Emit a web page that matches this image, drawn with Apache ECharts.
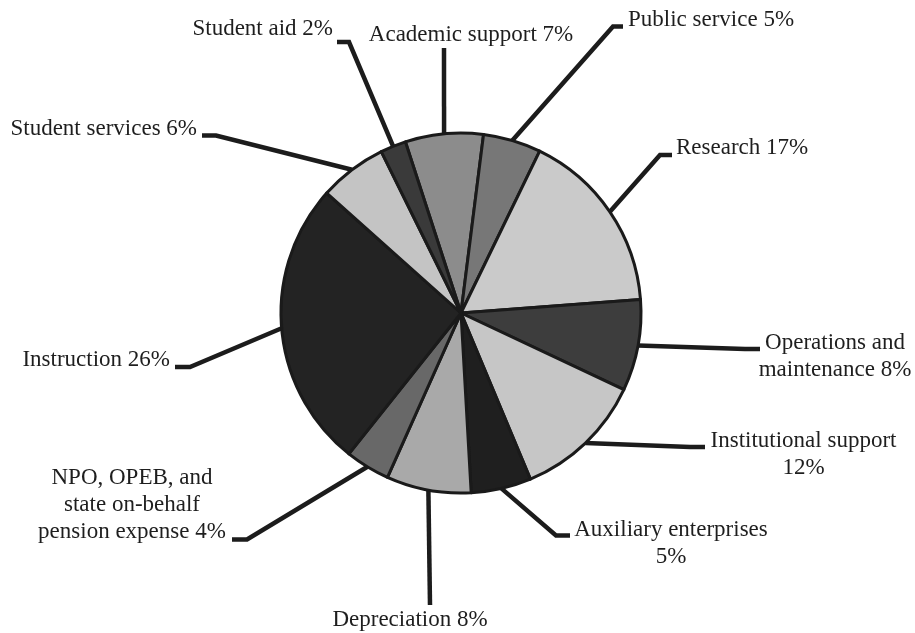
<!DOCTYPE html>
<html>
<head>
<meta charset="utf-8">
<script src="https://cdn.jsdelivr.net/npm/echarts@6/dist/echarts.min.js"></script>
<style>
  html, body { margin: 0; padding: 0; background: #fff; }
  #chart { width: 915px; height: 633px; }
</style>
</head>
<body>
<div id="chart"></div>
<script>
// 分类（顺时针，从顶部偏左开始）
var categories = [
  'Academic support',
  'Public service',
  'Research',
  'Operations and\nmaintenance',
  'Institutional support',
  'Auxiliary enterprises',
  'Depreciation',
  'NPO, OPEB, and\nstate on-behalf\npension expense',
  'Instruction',
  'Student services',
  'Student aid'
];
// 占比（%）
var shares = [7.0, 5.2, 16.6, 8.2, 11.7, 5.4, 7.6, 4.0, 25.9, 6.1, 2.3];

// 灰度配色
var colors = ['#8c8c8c', '#777777', '#cacaca', '#3d3d3d', '#c6c6c6', '#1f1f1f',
  '#a9a9a9', '#686868', '#232323', '#c4c4c4', '#3a3a3a'];
// 名称与百分比之间的分隔
var pctSep = [' ', ' ', ' ', ' ', '\n', '\n', ' ', ' ', ' ', ' ', ' '];

// 标签位置：文字锚点、对齐、引线拐点、水平短线长度
var labelPos = [
  { text: [471, 34.5], align: 'center', elbow: [444, 48], stub: 0 },
  { text: [628, 19.5], align: 'left', elbow: [613, 26.5], stub: 10 },
  { text: [676, 147.5], align: 'left', elbow: [660, 155], stub: 12 },
  { text: [835, 356], align: 'center', elbow: [745, 349], stub: 15 },
  { text: [803.5, 454], align: 'center', elbow: [690, 447], stub: 15 },
  { text: [671, 543], align: 'center', elbow: [556, 535.5], stub: 14 },
  { text: [410, 619.5], align: 'center', elbow: [430, 605], stub: 0 },
  { text: [132, 504.5], align: 'center', elbow: [247, 539.5], stub: -15 },
  { text: [170, 359.5], align: 'right', elbow: [190, 367], stub: -15 },
  { text: [197, 128.5], align: 'right', elbow: [216, 135.5], stub: -14 },
  { text: [333, 28.5], align: 'right', elbow: [349, 42], stub: -12 }
];

var chart = echarts.init(document.getElementById('chart'));

var pieData = [];
for (var i = 0; i < categories.length; i++) {
  pieData.push({ name: categories[i], value: shares[i], itemStyle: { color: colors[i] } });
}

chart.setOption({
  animation: false,
  backgroundColor: '#ffffff',
  series: [{
    type: 'pie',
    center: [461, 313],
    radius: 180,
    startAngle: 108,
    clockwise: true,
    avoidLabelOverlap: false,
    emphasis: { disabled: true },
    itemStyle: { borderColor: '#1a1a1a', borderWidth: 3, borderJoin: 'round' },
    label: {
      show: true,
      position: 'outside',
      fontFamily: 'Liberation Serif',
      fontSize: 23,
      lineHeight: 27,
      color: '#1e1e1e',
      formatter: function (p) {
        return p.name + pctSep[p.dataIndex] + Math.round(p.percent) + '%';
      }
    },
    labelLine: {
      show: true,
      smooth: false,
      lineStyle: { color: '#1c1c1c', width: 4.5, cap: 'butt', join: 'miter' }
    },
    labelLayout: function (p) {
      var L = labelPos[p.dataIndex];
      var start = p.labelLinePoints[0];
      return {
        x: L.text[0],
        y: L.text[1],
        align: L.align,
        verticalAlign: 'middle',
        labelLinePoints: [start, L.elbow, [L.elbow[0] + L.stub, L.elbow[1]]]
      };
    },
    data: pieData
  }]
});
</script>
</body>
</html>
